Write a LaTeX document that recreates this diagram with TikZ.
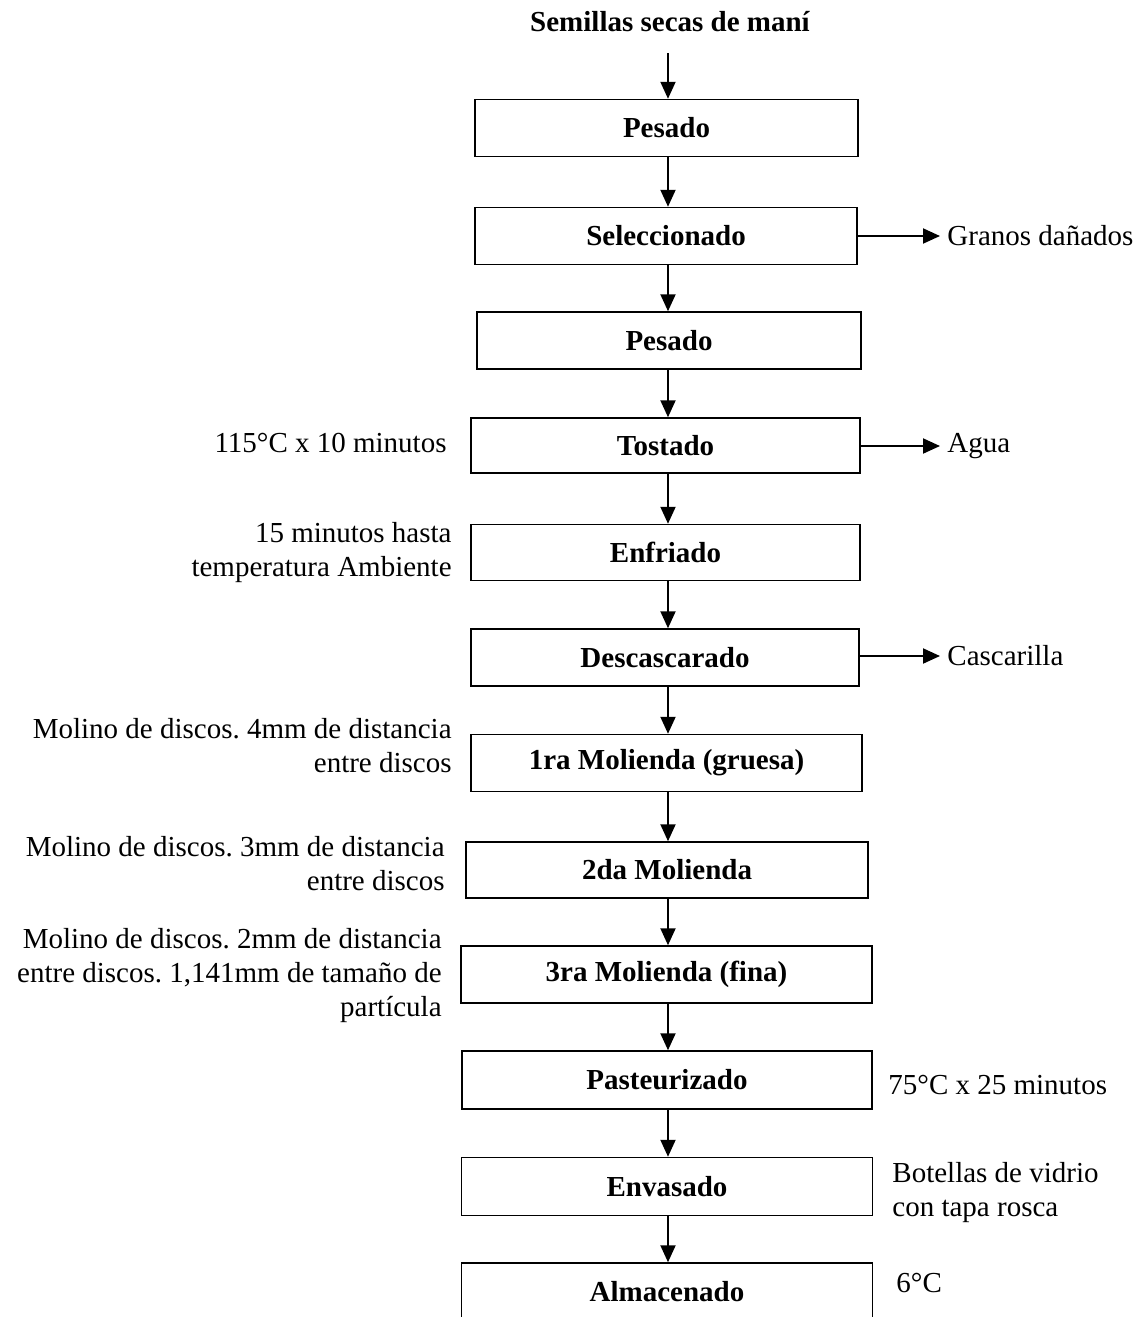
\documentclass[tikz,border=0pt]{standalone}
\usepackage{fontspec}
\setmainfont{Liberation Serif}
\usetikzlibrary{arrows.meta}

\begin{document}
\frenchspacing
\fontsize{14.5}{17}\selectfont
\begin{tikzpicture}
	[%
	x=0.5pt, y=-0.5pt,%
	paso/.style  ={rectangle,	draw=black,	line width=0.75pt,	inner sep=0pt,	minimum height=28.5pt,	font=\bfseries},%
	nota/.style  ={align=right,	anchor=east,	inner sep=0pt},%
	dato/.style  ={align=left,	anchor=west,	inner sep=0pt},%
	salida/.style={anchor=west,	inner sep=3.5pt},%
	flecha/.style={line width=1pt,	-{Triangle[length=8.5pt, width=7.5pt]}},%
	]

	\newcommand{\xeje}{668}
	\newcommand{\xsalida}{940}

	\useasboundingbox (0,0) rectangle (1144,1317);
	\coordinate (eje) at (\xeje,0);

	% nodes
	\node (titulo) at (670,32) [anchor=base, font=\bfseries] {Semillas secas de maní};

	\node (paso1)  at (666.5,128)  [paso, minimum width=191.5pt] {Pesado};
	\node (paso2)  at (666,236)    [paso, minimum width=191pt]   {Seleccionado};
	\node (paso3)  at (669,340.5)  [paso, minimum width=192pt]   {Pesado};
	\node (paso4)  at (665.5,445.5)[paso, minimum width=194.5pt, minimum height=27.5pt] {Tostado};
	\node (paso5)  at (665.5,552.5)[paso, minimum width=194.5pt, minimum height=28pt]   {Enfriado};
	\node (paso6)  at (665,657.5)  [paso, minimum width=194pt]   {Descascarado};
	\node (paso7)  at (666.5,763)  [paso, minimum width=195.5pt] {1ra Molienda (gruesa)};
	\node (paso8)  at (667,870)    [paso, minimum width=201pt, minimum height=28pt]    {2da Molienda};
	\node (paso9)  at (666.5,974.5)[paso, minimum width=205.5pt] {3ra Molienda (fina)};
	\node (paso10) at (667,1080)   [paso, minimum width=205pt, minimum height=29pt]    {Pasteurizado};
	\node (paso11) at (667,1186.5) [paso, minimum width=205.5pt, minimum height=29pt]  {Envasado};
	\node (paso12) at (667,1292)   [paso, minimum width=205.5pt, minimum height=29pt]  {Almacenado};

	% condiciones a la izquierda
	\node (nota4) at (447,443) [nota] {115°C x 10 minutos};
	\node (nota5) at (452,553) [nota] {15 minutos hasta\\temperatura Ambiente};
	\node (nota7) at (452,746) [nota] {Molino de discos. 4mm de distancia\\entre discos};
	\node (nota8) at (445,864) [nota] {Molino de discos. 3mm de distancia\\entre discos};
	\node (nota9) at (442,976) [nota] {Molino de discos. 2mm de distancia\\entre discos. 1,141mm de tamaño de\\partícula};

	% condiciones a la derecha
	\node (dato10) at (888,1085) [dato] {75°C x 25 minutos};
	\node (dato11) at (892,1193) [dato] {Botellas de vidrio\\con tapa rosca};
	\node (dato12) at (896,1283) [dato] {6°C};

	% salidas
	\node (granos)     at (\xsalida,236) [salida] {Granos dañados};
	\node (agua)       at (\xsalida,446) [salida] {Agua};
	\node (cascarilla) at (\xsalida,656) [salida] {Cascarilla};

	% interconnections
	\draw [flecha, shorten <=5.5pt] (titulo.south -| eje) -- (paso1.north -| eje);
	\foreach \a/\b in {1/2,2/3,3/4,4/5,5/6,6/7,7/8,8/9,9/10,10/11,11/12}%
		\draw [flecha] (paso\a.south -| eje) -- (paso\b.north -| eje);

	\draw [flecha] (paso2.east |- granos) -- (granos.west);
	\draw [flecha] (paso4.east |- agua) -- (agua.west);
	\draw [flecha] (paso6.east |- cascarilla) -- (cascarilla.west);

\end{tikzpicture}
\end{document}
